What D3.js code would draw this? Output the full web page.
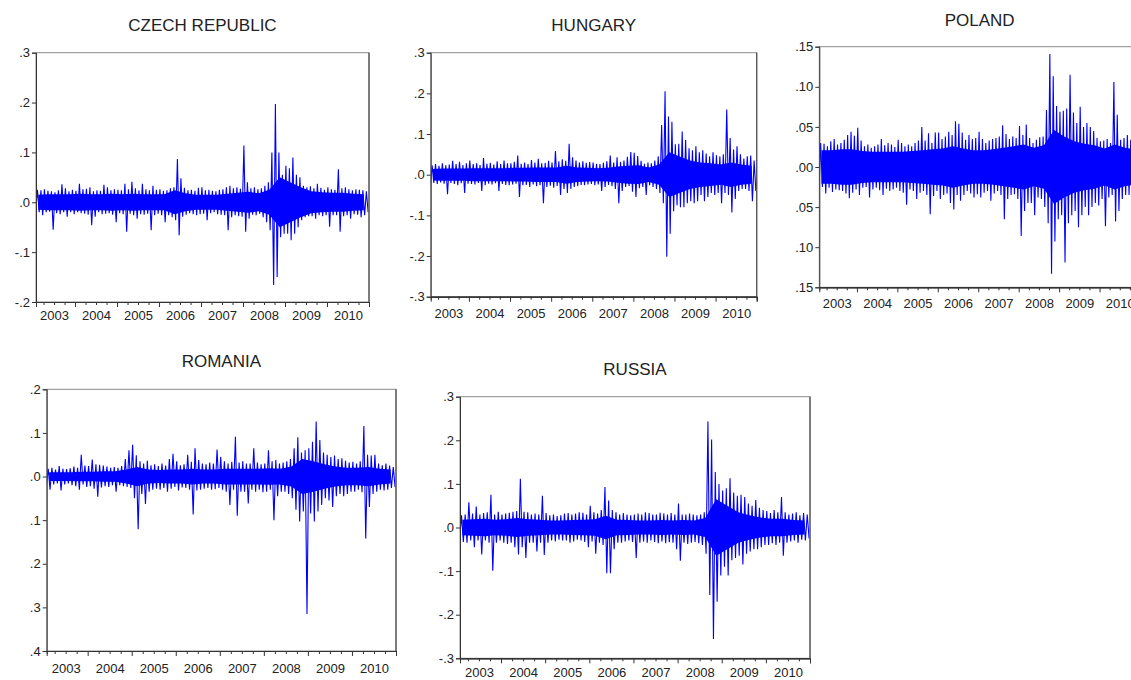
<!DOCTYPE html>
<html><head><meta charset="utf-8">
<script src="https://cdn.jsdelivr.net/npm/d3@7"></script>
<style>
body{margin:0;background:#fff}
svg{display:block}
text{font-family:"Liberation Sans",Arial,Helvetica,sans-serif;fill:#222}
</style>
</head><body>
<svg id="chart" width="1131" height="680"></svg>
<script>
// ---- data (daily returns, in %) ----
// *Hi / *Lo : monthly upward / downward swing extremes ; *Core : quarterly half-width of the dense (solid) band
const years = ["2003","2004","2005","2006","2007","2008","2009","2010"];

const czechHi = [2.2,2.5,2.4,2.6,2.3,2.2,2.0,2.4,3.6,2.8,2.2,2.5,
 2.3,3.7,2.6,2.7,3.0,2.2,2.4,2.3,3.5,3.0,2.4,2.6,
 2.5,2.4,3.7,2.6,4.1,2.8,2.4,3.7,2.6,2.4,3.3,2.5,
 2.6,2.3,2.4,2.8,3.0,8.7,4.8,2.9,2.4,2.5,2.3,2.9,
 3.0,2.4,2.5,2.3,2.2,2.5,2.6,3.0,3.3,2.8,3.0,2.7,
 11.4,4.0,2.8,3.0,2.6,2.8,3.3,4.0,10.0,19.7,10.0,5.5,
 7.3,6.8,9.0,5.5,5.0,3.3,3.0,3.2,2.8,3.7,2.9,2.5,
 3.0,2.6,2.5,6.6,2.8,3.0,2.6,2.4,2.6,2.5,2.4,2.2];
const czechLo = [-1.8,-2.0,-2.6,-2.0,-1.9,-5.5,-2.2,-2.4,-2.0,-2.9,-2.0,-2.4,
 -2.0,-2.2,-2.3,-2.5,-4.6,-2.9,-2.0,-2.4,-2.3,-2.2,-2.5,-4.0,
 -2.2,-2.4,-5.9,-2.3,-2.6,-3.3,-2.4,-2.5,-2.3,-5.6,-2.6,-2.3,
 -2.6,-4.0,-2.6,-3.0,-3.6,-6.6,-2.9,-2.5,-2.2,-2.4,-2.6,-2.4,
 -2.3,-3.6,-2.2,-2.0,-2.4,-2.5,-2.6,-5.6,-3.0,-2.6,-2.8,-2.9,
 -5.9,-3.3,-2.5,-2.6,-2.3,-3.0,-4.0,-5.6,-16.6,-15.0,-7.0,-6.3,
 -6.3,-7.6,-6.3,-5.0,-3.6,-3.0,-2.8,-2.8,-3.3,-2.6,-2.8,-2.6,
 -4.9,-2.6,-2.6,-5.9,-2.8,-2.6,-3.3,-2.4,-2.5,-3.0,-2.6,-2.0];
const czechCore = [1.5,1.6,1.6,1.6, 1.7,1.6,1.6,1.7, 1.6,1.7,1.6,1.6, 1.6,2.4,1.8,1.5,
 1.5,1.5,1.7,1.9, 2.1,1.8,2.5,5.0, 4.0,3.0,2.2,2.0, 1.9,1.9,1.7,1.6];

const hungaryHi = [2.4,2.3,2.6,2.2,2.8,2.3,2.5,3.4,2.6,3.2,2.4,2.8,
 3.5,2.6,2.8,2.4,4.1,2.7,2.9,2.5,3.3,2.6,3.5,2.8,
 2.8,3.2,4.7,2.7,3.0,2.6,3.6,3.0,3.9,2.8,2.9,3.4,
 3.0,5.8,3.3,3.8,3.4,7.6,4.3,3.5,3.0,3.3,2.9,3.1,
 3.0,2.7,2.6,2.9,3.3,4.7,3.0,4.3,3.2,3.5,4.4,5.6,
 5.4,4.6,3.4,2.7,3.0,2.8,3.5,4.5,12.2,20.5,14.3,13.0,
 7.5,7.6,10.6,8.5,6.5,6.0,7.0,5.5,6.0,5.2,4.5,5.5,
 4.8,4.5,5.0,16.0,9.0,6.2,7.0,5.0,4.0,4.5,4.7,3.5];
const hungaryLo = [-2.6,-2.0,-2.3,-1.9,-2.2,-4.8,-2.0,-2.3,-2.6,-2.1,-4.5,-2.2,
 -2.3,-2.4,-2.0,-4.0,-2.6,-2.2,-2.4,-2.1,-4.0,-2.3,-2.5,-2.6,
 -2.4,-2.2,-5.5,-2.6,-2.5,-3.0,-2.4,-2.8,-2.6,-7.0,-3.0,-2.7,
 -3.2,-2.8,-5.0,-3.5,-4.5,-3.5,-3.0,-2.8,-2.5,-2.6,-2.4,-2.3,
 -2.6,-2.4,-4.0,-3.0,-2.5,-2.8,-3.5,-7.0,-4.0,-3.0,-2.8,-4.2,
 -5.5,-3.3,-3.0,-5.0,-2.6,-3.0,-3.5,-4.5,-7.0,-20.2,-14.5,-9.0,
 -7.5,-8.0,-8.0,-7.0,-6.5,-7.0,-6.5,-5.0,-6.5,-5.5,-4.5,-5.0,
 -4.5,-7.0,-4.5,-5.0,-9.3,-6.0,-4.0,-3.5,-3.5,-4.0,-6.5,-4.0];
const hungaryCore = [1.4,1.5,1.5,1.5, 1.6,1.6,1.6,1.6, 1.7,1.7,1.8,1.8, 1.8,2.2,1.8,1.7,
 1.6,1.7,2.0,2.2, 2.3,1.8,2.5,5.5, 4.5,3.5,3.0,2.8, 2.5,3.0,2.5,2.2];

const polandHi = [2.8,3.0,2.9,2.6,3.2,3.5,2.8,3.0,3.4,4.0,4.4,3.9,
 4.9,3.3,2.6,2.8,2.4,2.6,2.8,3.5,2.7,3.0,2.8,2.5,
 3.4,3.0,2.6,2.8,2.6,3.0,3.3,5.0,3.3,4.2,3.0,4.3,
 4.3,3.5,3.8,4.4,4.0,5.7,5.4,4.3,3.4,4.0,3.5,3.6,
 4.4,3.5,3.0,3.3,3.5,3.6,3.8,5.2,4.1,3.5,3.8,3.6,
 5.1,4.0,5.3,3.6,3.0,3.4,3.7,3.8,7.1,14.1,11.3,7.6,
 6.9,7.0,7.3,11.5,6.8,5.5,7.5,5.0,5.5,5.0,4.5,3.6,
 3.2,3.3,3.5,3.0,10.6,6.5,3.4,3.6,4.0,3.4,3.2,3.0];
const polandLo = [-2.8,-2.5,-3.3,-2.6,-3.1,-2.8,-2.9,-3.0,-3.3,-3.9,-3.2,-2.8,
 -3.5,-2.6,-2.5,-3.8,-2.8,-2.6,-2.9,-3.5,-2.7,-3.0,-2.8,-2.6,
 -3.0,-3.2,-4.7,-2.8,-3.0,-4.0,-3.2,-3.0,-3.5,-5.9,-3.6,-3.0,
 -4.0,-3.5,-3.3,-4.5,-5.3,-3.5,-4.2,-3.5,-3.0,-3.3,-3.8,-3.4,
 -3.8,-3.2,-3.0,-4.2,-3.3,-3.0,-3.5,-6.5,-4.0,-3.5,-3.4,-4.0,
 -8.6,-5.5,-4.5,-4.5,-6.0,-3.8,-4.0,-5.0,-7.0,-13.3,-9.3,-6.5,
 -6.0,-11.9,-7.0,-6.0,-5.5,-7.5,-6.0,-5.0,-6.0,-5.0,-4.5,-4.8,
 -4.0,-7.4,-3.8,-3.5,-6.8,-5.5,-4.0,-3.5,-3.5,-3.3,-3.0,-3.0];
const polandCore = [2.1,2.1,2.2,2.2, 2.0,1.9,1.9,1.9, 1.9,2.0,2.1,2.2, 2.3,2.6,2.3,2.1,
 2.1,2.2,2.4,2.6, 2.8,2.4,2.7,4.6, 3.8,3.2,2.9,2.7, 2.3,2.8,2.4,2.2];

const romaniaHi = [3.2,1.8,2.0,1.6,2.4,1.8,1.7,1.9,2.3,2.0,5.0,2.5,
 2.4,3.9,2.8,2.7,2.5,2.3,2.0,2.2,2.0,2.4,4.0,6.0,
 7.3,4.9,3.5,3.0,3.6,2.6,2.8,2.4,3.0,2.5,4.0,5.2,
 3.5,2.6,2.8,5.0,3.4,6.5,3.8,3.0,2.8,3.2,3.0,6.2,
 4.5,3.5,3.0,3.4,9.1,3.2,3.5,3.0,3.0,6.5,3.2,2.8,
 3.0,6.0,3.5,3.8,3.0,3.2,3.5,4.0,6.5,9.0,5.5,6.0,
 6.5,8.0,12.6,8.4,5.5,5.0,4.5,4.8,4.0,4.2,3.6,3.2,
 3.4,3.0,3.5,11.6,5.0,4.8,5.0,3.0,2.6,3.0,2.5,2.2];
const romaniaLo = [-2.0,-3.0,-1.8,-1.6,-3.2,-1.8,-1.6,-2.0,-2.2,-3.0,-1.8,-2.4,
 -2.2,-2.8,-4.6,-2.5,-2.2,-2.4,-2.0,-3.5,-2.0,-2.2,-2.4,-2.6,
 -5.0,-12.1,-4.0,-6.3,-3.5,-3.0,-2.8,-3.0,-2.6,-3.5,-2.8,-2.4,
 -3.2,-2.5,-2.6,-3.0,-8.7,-3.2,-3.0,-2.8,-2.6,-3.0,-2.9,-2.6,
 -3.0,-3.5,-6.5,-3.0,-9.0,-3.5,-3.5,-6.2,-3.0,-3.5,-3.0,-3.6,
 -3.5,-3.0,-10.0,-4.5,-3.5,-3.5,-4.0,-5.0,-7.6,-10.3,-8.0,-31.5,
 -8.5,-10.3,-8.0,-6.5,-5.0,-5.5,-7.0,-4.5,-4.0,-4.5,-4.0,-3.5,
 -3.5,-3.0,-3.6,-14.2,-7.0,-4.0,-3.5,-3.0,-3.2,-3.0,-2.6,-2.4];
const romaniaCore = [1.0,1.0,1.0,1.1, 1.1,1.2,1.2,1.6, 2.2,1.6,1.5,1.6, 1.6,1.8,1.6,1.6,
 1.8,1.8,1.8,1.8, 1.9,1.8,2.3,4.0, 3.5,2.8,2.3,2.0, 2.0,2.2,1.8,1.6];

const russiaHi = [3.6,2.8,3.0,5.8,3.2,4.8,3.0,3.3,3.5,7.5,3.0,3.6,
 3.0,3.2,3.4,3.6,3.8,11.2,3.6,3.5,3.0,3.2,3.0,7.3,
 3.3,2.8,3.0,2.6,2.8,3.2,3.3,3.0,3.2,3.5,3.4,3.0,
 5.0,3.5,3.2,4.0,9.3,6.2,4.0,3.5,3.0,3.3,3.0,2.8,
 3.0,3.2,3.0,3.5,3.3,3.0,3.0,3.4,3.2,3.0,3.3,3.0,
 5.5,3.0,3.0,3.2,3.0,2.8,3.0,3.5,24.3,20.2,12.7,10.0,
 8.5,9.0,11.3,8.0,7.3,7.5,7.0,5.5,5.0,6.3,4.5,4.0,
 3.8,3.3,4.0,3.5,7.0,3.5,3.0,3.2,3.5,2.8,3.3,3.0];
const russiaLo = [-2.5,-3.3,-3.5,-3.0,-4.5,-3.0,-6.2,-3.0,-3.5,-9.9,-3.5,-3.0,
 -3.5,-3.8,-3.5,-4.5,-6.2,-4.5,-7.0,-3.5,-3.5,-5.5,-3.5,-6.3,
 -3.5,-3.0,-3.2,-2.8,-3.0,-3.0,-3.5,-3.2,-2.8,-3.0,-3.3,-4.5,
 -3.2,-6.0,-3.5,-4.0,-10.5,-10.5,-5.0,-3.5,-3.5,-3.2,-3.0,-3.3,
 -7.0,-3.5,-3.2,-3.5,-3.0,-3.3,-3.6,-3.2,-3.6,-3.4,-3.5,-5.0,
 -7.6,-3.5,-3.8,-3.5,-3.3,-3.6,-4.0,-6.0,-15.5,-25.6,-17.0,-11.0,
 -9.0,-11.0,-7.5,-7.0,-6.5,-8.5,-6.0,-5.5,-5.0,-5.0,-4.5,-4.0,
 -4.0,-3.6,-4.0,-3.5,-6.5,-3.5,-3.2,-3.0,-3.5,-2.8,-3.0,-2.5];
const russiaCore = [1.8,1.9,2.0,1.8, 1.9,2.2,1.9,1.8, 1.6,1.6,1.7,1.8, 1.9,2.7,1.8,1.7,
 1.6,1.6,1.7,1.6, 1.7,1.6,2.2,6.5, 5.0,3.5,2.8,2.3, 2.0,2.0,1.7,1.6];

// y tick values (in %) and their labels as printed
const czechTicks = [30,20,10,0,-10,-20];
const czechTickLabels = [".3",".2",".1",".0","-.1","-.2"];
const hungaryTicks = [30,20,10,0,-10,-20,-30];
const hungaryTickLabels = [".3",".2",".1",".0","-.1","-.2","-.3"];
const polandTicks = [15,10,5,0,-5,-10,-15];
const polandTickLabels = [".15",".10",".05",".00",".05",".10",".15"];
const romaniaTicks = [20,10,0,-10,-20,-30,-40];
const romaniaTickLabels = [".2",".1",".0",".1",".2",".3",".4"];
const russiaTicks = [30,20,10,0,-10,-20,-30];
const russiaTickLabels = [".3",".2",".1",".0","-.1","-.2","-.3"];

// ---- layout ----
const panels = [
  {title:"CZECH REPUBLIC", hi:czechHi, lo:czechLo, core:czechCore, ticks:czechTicks, labels:czechTickLabels,
   x0:36, x1:369, yTop:52.7, yBot:302, titleY:30.5, labPad:8.8},
  {title:"HUNGARY", hi:hungaryHi, lo:hungaryLo, core:hungaryCore, ticks:hungaryTicks, labels:hungaryTickLabels,
   x0:430.7, x1:756.7, yTop:52.7, yBot:296.7, titleY:31, labPad:12},
  {title:"POLAND", hi:polandHi, lo:polandLo, core:polandCore, ticks:polandTicks, labels:polandTickLabels,
   x0:819.3, x1:1140, yTop:46.7, yBot:287.3, titleY:26, labPad:11.5},
  {title:"ROMANIA", hi:romaniaHi, lo:romaniaLo, core:romaniaCore, ticks:romaniaTicks, labels:romaniaTickLabels,
   x0:46.7, x1:396, yTop:389.3, yBot:651, titleY:366.7, labPad:12.5},
  {title:"RUSSIA", hi:russiaHi, lo:russiaLo, core:russiaCore, ticks:russiaTicks, labels:russiaTickLabels,
   x0:460, x1:810, yTop:396.7, yBot:658.3, titleY:374.5, labPad:9.6}
];

const svg = d3.select("#chart");
const tStart = 2003.07, tEnd = 2011.0;
const BLUE = "#0000ff";

panels.forEach((p, pi) => {
  const x = d3.scaleLinear().domain([tStart, tEnd]).range([p.x0, p.x1]);
  const y = d3.scaleLinear().domain([d3.min(p.ticks), d3.max(p.ticks)]).range([p.yBot, p.yTop]);
  const g = svg.append("g");

  g.append("text").attr("x", (p.x0 + p.x1) / 2).attr("y", p.titleY)
    .attr("text-anchor", "middle").style("font-size", "17px").text(p.title);

  const cid = "clip" + pi;
  svg.append("clipPath").attr("id", cid).append("rect")
    .attr("x", p.x0).attr("y", p.yTop).attr("width", p.x1 - p.x0).attr("height", p.yBot - p.yTop);
  const plot = g.append("g").attr("clip-path", `url(#${cid})`);

  // dense band of the overplotted daily line
  const coreData = p.core.map((c, q) => ({t: 2003 + (q + 0.5) / 4, c}));
  const area = d3.area().x(d => x(d.t)).y0(d => y(-d.c)).y1(d => y(d.c));
  plot.append("path").datum(coreData).attr("d", area).attr("fill", BLUE);

  // month-by-month swings
  const pts = [];
  d3.range(p.hi.length).forEach(m => {
    pts.push({t: 2003 + (m + 0.25) / 12, v: p.hi[m]});
    pts.push({t: 2003 + (m + 0.75) / 12, v: p.lo[m]});
  });
  const line = d3.line().x(d => x(d.t)).y(d => y(d.v));
  plot.append("path").datum(pts).attr("d", line).attr("fill", "none")
    .attr("stroke", BLUE).attr("stroke-width", 1.1).attr("stroke-linejoin", "miter");

  // frame
  g.append("rect").attr("x", p.x0).attr("y", p.yTop)
    .attr("width", p.x1 - p.x0).attr("height", p.yBot - p.yTop)
    .attr("fill", "none").attr("stroke", "#8a8a8a").attr("stroke-width", 1);
  g.append("line").attr("x1", p.x1).attr("x2", p.x1).attr("y1", p.yTop).attr("y2", p.yBot)
    .attr("stroke", "#555").attr("stroke-width", 1.3);

  // y axis
  const ya = d3.axisLeft(y).tickValues(p.ticks).tickFormat((d, i) => p.labels[i])
    .tickSize(4).tickPadding(2);
  const yg = g.append("g").attr("transform", `translate(${p.x0},0)`).call(ya);
  yg.select(".domain").attr("stroke", "#333");
  yg.selectAll(".tick line").attr("stroke", "#333");
  yg.selectAll("text").style("font-size", "13px").attr("fill", "#222");

  // x axis: quarter ticks, year ticks, year labels
  const quarters = d3.range(2003.25, 2011.0, 0.25).filter(v => Math.abs(v - Math.round(v)) > 0.01);
  const yearBounds = d3.range(2004, 2012);
  const xMinor = d3.axisBottom(x).tickValues(quarters).tickSize(3).tickFormat("");
  const xMajor = d3.axisBottom(x).tickValues(yearBounds).tickSize(5).tickFormat("");
  const xLab = d3.axisBottom(x).tickValues(years.map(s => +s + 0.5))
    .tickFormat((d, i) => years[i]).tickSize(0).tickPadding(p.labPad);
  [xMinor, xMajor, xLab].forEach(ax => {
    const xg = g.append("g").attr("transform", `translate(0,${p.yBot})`).call(ax);
    xg.select(".domain").attr("stroke", "#333");
    xg.selectAll(".tick line").attr("stroke", "#333");
    xg.selectAll("text").style("font-size", "13px").attr("fill", "#222");
  });
});
</script>
</body></html>
